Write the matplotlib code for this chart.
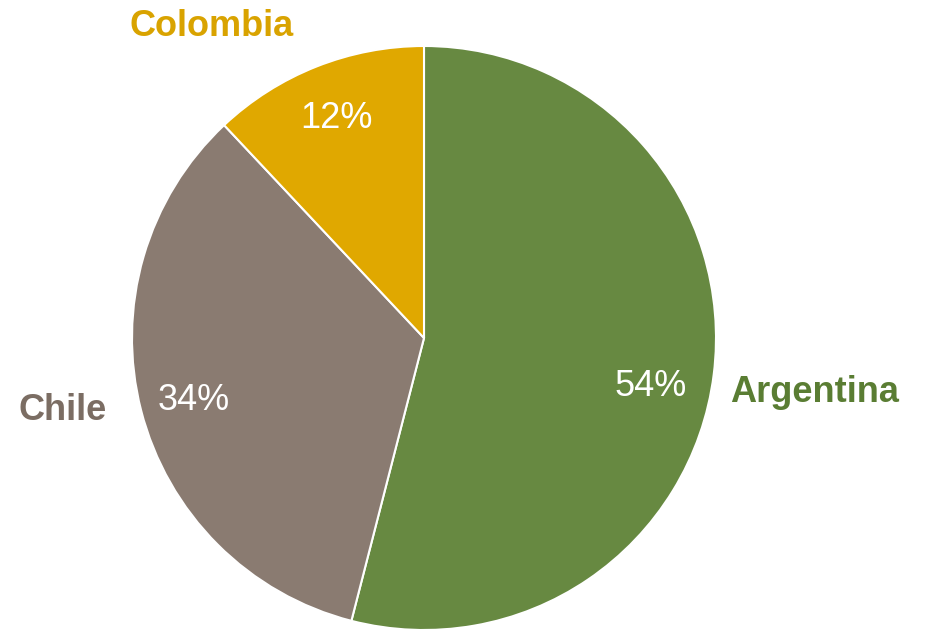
import numpy as np
import matplotlib.pyplot as plt

countries = ['Argentina', 'Chile', 'Colombia']
shares = [54, 34, 12]
colors = ['#678941', '#8a7b71', '#e0a800']
label_colors = ['#5a7d33', '#7b6d63', '#d9a300']

plt.rcParams['font.family'] = ['Liberation Sans', 'DejaVu Sans']

fig = plt.figure(figsize=(9.26, 6.29), dpi=100)
ax = fig.add_axes([0, 0, 1, 1])

cx, cy, r = 424, 291, 292
wedges, texts, pcts = ax.pie(
    shares, colors=colors, startangle=90, counterclock=False,
    center=(cx, cy), radius=r, labels=countries, labeldistance=1.3,
    autopct='%1.0f%%', pctdistance=0.81,
    wedgeprops=dict(edgecolor='white', linewidth=1.5),
    textprops=dict(fontsize=26),
)

# pie() resets the limits, so set the canvas afterwards
ax.set_xlim(0, 926)
ax.set_ylim(0, 629)
ax.set_aspect('equal')
ax.axis('off')

for t in pcts:
    t.set_color('white')

# outer labels sit where they fit best around the pie
label_pos = {'Argentina': (815, 236), 'Chile': (63, 219), 'Colombia': (212, 602)}
for t, c in zip(texts, label_colors):
    t.set_position(label_pos[t.get_text()])
    t.set_ha('center')
    t.set_va('center')
    t.set_color(c)
    t.set_fontweight('bold')

pcts[0].set_position((651, 242))
pcts[1].set_position((194, 228))

fig.savefig('out.png', dpi=100)
